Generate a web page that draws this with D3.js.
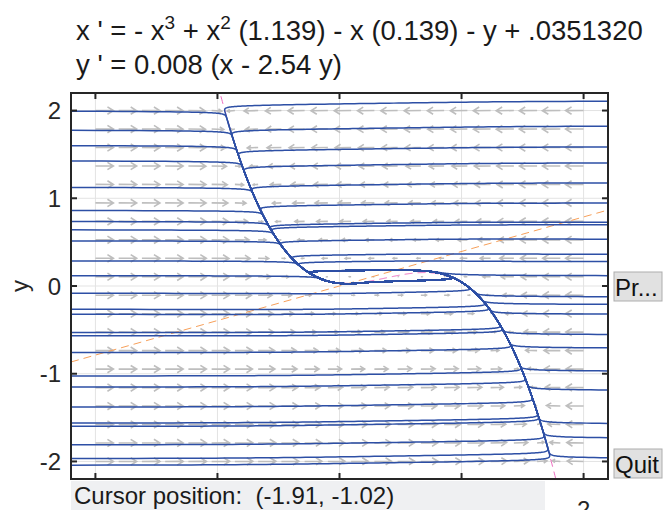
<!DOCTYPE html>
<html>
<head>
<meta charset="UTF-8">
<script src="https://d3js.org/d3.v7.min.js"></script>
<style>
  body { margin: 0; background: #fff; }
  svg { display: block; font-family: "Liberation Sans", Arial, sans-serif; }
  text { white-space: pre; }
</style>
</head>
<body>
<div id="chart"></div>
<script>
const width = 664, height = 510;
const plotLeft = 71, plotTop = 93, plotRight = 608, plotBottom = 479;

// x' = -x^3 + A x^2 - B x - y + C ,  y' = E (x - G y)
const coefA = 1.139, coefB = 0.139, coefC = 0.035132;
const coefE = 0.008, coefG = 2.54;

const xTicks = [-2, -1, 0, 1, 2];
const yTicks = [-2, -1, 0, 1, 2];
// only the last x label sticks out below the cursor readout
const xTickShown = [2];

const leftStarts = [1.992, 1.775, 1.600, 1.425, 1.123, 0.861, 0.735, 0.640, 0.514, 0.286, 0.118,
  -0.083, -0.266, -0.323, -0.529, -0.568, -0.758, -1.025, -1.151, -1.379, -1.562, -1.600, -1.810, -1.966, -2.042];
const rightStarts = [2.106, 1.821, 1.585, 1.402, 1.174, 0.945, 0.728, 0.697, 0.534, 0.362, 0.278, 0.118,
  -0.122, -0.209, -0.320, -0.552, -0.705, -0.968, -1.185, -1.566, -1.729, -1.958];

const fieldCols = 22, fieldRows = 20;

const x = d3.scaleLinear().domain([-2.2, 2.2]).range([plotLeft, plotRight]);
const y = d3.scaleLinear().domain([-2.2, 2.2]).range([plotBottom, plotTop]);

function deriv(p) {
  const [u, v] = p;
  return [-u * u * u + coefA * u * u - coefB * u - v + coefC, coefE * (u - coefG * v)];
}

function solve(p0, tMax) {
  const dt = 0.02;
  let p = p0.slice();
  const pts = [p.slice()];
  let last = [x(p[0]), y(p[1])];
  for (let t = 0; t < tMax; t += dt) {
    const k1 = deriv(p);
    const k2 = deriv([p[0] + dt / 2 * k1[0], p[1] + dt / 2 * k1[1]]);
    const k3 = deriv([p[0] + dt / 2 * k2[0], p[1] + dt / 2 * k2[1]]);
    const k4 = deriv([p[0] + dt * k3[0], p[1] + dt * k3[1]]);
    p = [p[0] + dt / 6 * (k1[0] + 2 * k2[0] + 2 * k3[0] + k4[0]),
         p[1] + dt / 6 * (k1[1] + 2 * k2[1] + 2 * k3[1] + k4[1])];
    if (Math.abs(p[0]) > 2.3 || Math.abs(p[1]) > 2.3) { pts.push(p.slice()); break; }
    const px = x(p[0]), py = y(p[1]);
    if (Math.hypot(px - last[0], py - last[1]) > 0.6) {
      pts.push(p.slice());
      last = [px, py];
    }
  }
  pts.push(p.slice());
  return pts;
}

const svg = d3.select("#chart").append("svg")
  .attr("width", width).attr("height", height);

svg.append("defs").append("clipPath").attr("id", "plotclip")
  .append("rect").attr("x", plotLeft).attr("y", plotTop)
  .attr("width", plotRight - plotLeft).attr("height", plotBottom - plotTop);

// grid
const grid = svg.append("g").attr("stroke", "#e3e3e3").attr("stroke-width", 1);
grid.selectAll(".gx").data(xTicks).join("line").attr("class", "gx")
  .attr("x1", d => x(d)).attr("x2", d => x(d)).attr("y1", plotTop).attr("y2", plotBottom);
grid.selectAll(".gy").data(yTicks).join("line").attr("class", "gy")
  .attr("y1", d => y(d)).attr("y2", d => y(d)).attr("x1", plotLeft).attr("x2", plotRight);

const plot = svg.append("g").attr("clip-path", "url(#plotclip)");

// direction field
const cols = d3.range(fieldCols).map(i => -2 + i * 4 / (fieldCols - 1));
const rows = d3.range(fieldRows).map(j => 2 - j * 4 / (fieldRows - 1));
const arrows = [];
rows.forEach(v => cols.forEach(u => {
  const d = deriv([u, v]);
  const dx = d[0] * (x(1) - x(0)), dy = d[1] * (y(1) - y(0));
  const m = Math.hypot(d[0], d[1]);
  const len = 18 * (1 - Math.exp(-m / 0.7));
  const n = Math.hypot(dx, dy) || 1;
  arrows.push({ x0: x(u), y0: y(v), ux: dx / n, uy: dy / n, len });
}));
const arrowPath = a => {
  const x1 = a.x0 + a.ux * a.len, y1 = a.y0 + a.uy * a.len;
  const h = Math.min(7, a.len * 0.4);
  const ang = Math.atan2(a.uy, a.ux);
  const hx1 = x1 - h * Math.cos(ang - 0.55), hy1 = y1 - h * Math.sin(ang - 0.55);
  const hx2 = x1 - h * Math.cos(ang + 0.55), hy2 = y1 - h * Math.sin(ang + 0.55);
  return `M${a.x0},${a.y0}L${x1},${y1}M${hx1},${hy1}L${x1},${y1}L${hx2},${hy2}`;
};
plot.append("g").attr("fill", "none").attr("stroke", "#bebebe").attr("stroke-width", 1.6)
  .selectAll("path").data(arrows).join("path").attr("d", arrowPath);

// nullclines
const line = d3.line().x(d => x(d[0])).y(d => y(d[1]));
const xs = d3.range(-1.05, 1.8, 0.005);
plot.append("path")
  .datum(xs.map(u => [u, -u * u * u + coefA * u * u - coefB * u + coefC]))
  .attr("d", line).attr("fill", "none").attr("stroke", "#ee6cc0")
  .attr("stroke-width", 1).attr("stroke-dasharray", "8,5");
plot.append("path")
  .datum([[-2.2, -2.2 / coefG], [2.2, 2.2 / coefG]])
  .attr("d", line).attr("fill", "none").attr("stroke", "#f7a05a")
  .attr("stroke-width", 1).attr("stroke-dasharray", "8,5");

// solution curves
const curves = leftStarts.map(v => solve([-2.2, v], 900))
  .concat(rightStarts.map(v => solve([2.2, v], 900)));
plot.append("g").attr("fill", "none").attr("stroke", "#2d4fa5").attr("stroke-width", 1.5)
  .attr("stroke-linejoin", "round")
  .selectAll("path").data(curves).join("path").attr("d", line);

// frame and ticks
const axisCol = "#262626";
svg.append("rect").attr("x", plotLeft).attr("y", plotTop)
  .attr("width", plotRight - plotLeft).attr("height", plotBottom - plotTop)
  .attr("fill", "none").attr("stroke", axisCol).attr("stroke-width", 2);
const ticks = svg.append("g").attr("stroke", axisCol).attr("stroke-width", 2);
xTicks.forEach(d => {
  ticks.append("line").attr("x1", x(d)).attr("x2", x(d)).attr("y1", plotTop).attr("y2", plotTop + 6);
  ticks.append("line").attr("x1", x(d)).attr("x2", x(d)).attr("y1", plotBottom).attr("y2", plotBottom - 6);
});
yTicks.forEach(d => {
  ticks.append("line").attr("y1", y(d)).attr("y2", y(d)).attr("x1", plotLeft).attr("x2", plotLeft + 6);
  ticks.append("line").attr("y1", y(d)).attr("y2", y(d)).attr("x1", plotRight).attr("x2", plotRight - 6);
});

svg.append("g").attr("font-size", 24).attr("fill", "#262626").attr("text-anchor", "end")
  .selectAll("text").data(yTicks).join("text")
  .attr("x", 61).attr("y", d => y(d) + 8.5).text(d => d);
svg.append("g").attr("font-size", 24).attr("fill", "#262626").attr("text-anchor", "middle")
  .selectAll("text").data(xTickShown).join("text")
  .attr("x", d => x(d)).attr("y", 518).text(d => d);

svg.append("text").attr("transform", `translate(28,${y(0)}) rotate(-90)`)
  .attr("text-anchor", "middle").attr("font-size", 24).attr("fill", "#262626").text("y");

// title
const title = svg.append("g").attr("font-size", 27.5).attr("fill", "#1a1a1a");
const t1 = title.append("text").attr("x", 76).attr("y", 40);
t1.append("tspan").text("x ' = - x");
t1.append("tspan").attr("dy", -11).attr("font-size", 19).text("3");
t1.append("tspan").attr("dy", 11).text(" + x");
t1.append("tspan").attr("dy", -11).attr("font-size", 19).text("2");
t1.append("tspan").attr("dy", 11).text(" (1.139) - x (0.139) - y + .0351320");
title.append("text").attr("x", 76).attr("y", 74).text("y ' = 0.008 (x - 2.54 y)");

// buttons
const buttons = [{ label: "Pr...", y0: 272 }, { label: "Quit", y0: 449 }];
const btn = svg.append("g").selectAll("g").data(buttons).join("g");
btn.append("rect").attr("x", 614).attr("y", d => d.y0).attr("width", 48).attr("height", 29)
  .attr("fill", "#e1e1e1").attr("stroke", "#adadad");
btn.append("text").attr("x", 615).attr("y", d => d.y0 + 24).attr("font-size", 24)
  .attr("fill", "#111").text(d => d.label);

// cursor readout
svg.append("rect").attr("x", 71).attr("y", 481).attr("width", 474).attr("height", 30).attr("fill", "#eff0f2");
svg.append("text").attr("x", 74).attr("y", 504).attr("font-size", 24).attr("fill", "#1a1a1a")
  .text("Cursor position:  (-1.91, -1.02)");
</script>
</body>
</html>
